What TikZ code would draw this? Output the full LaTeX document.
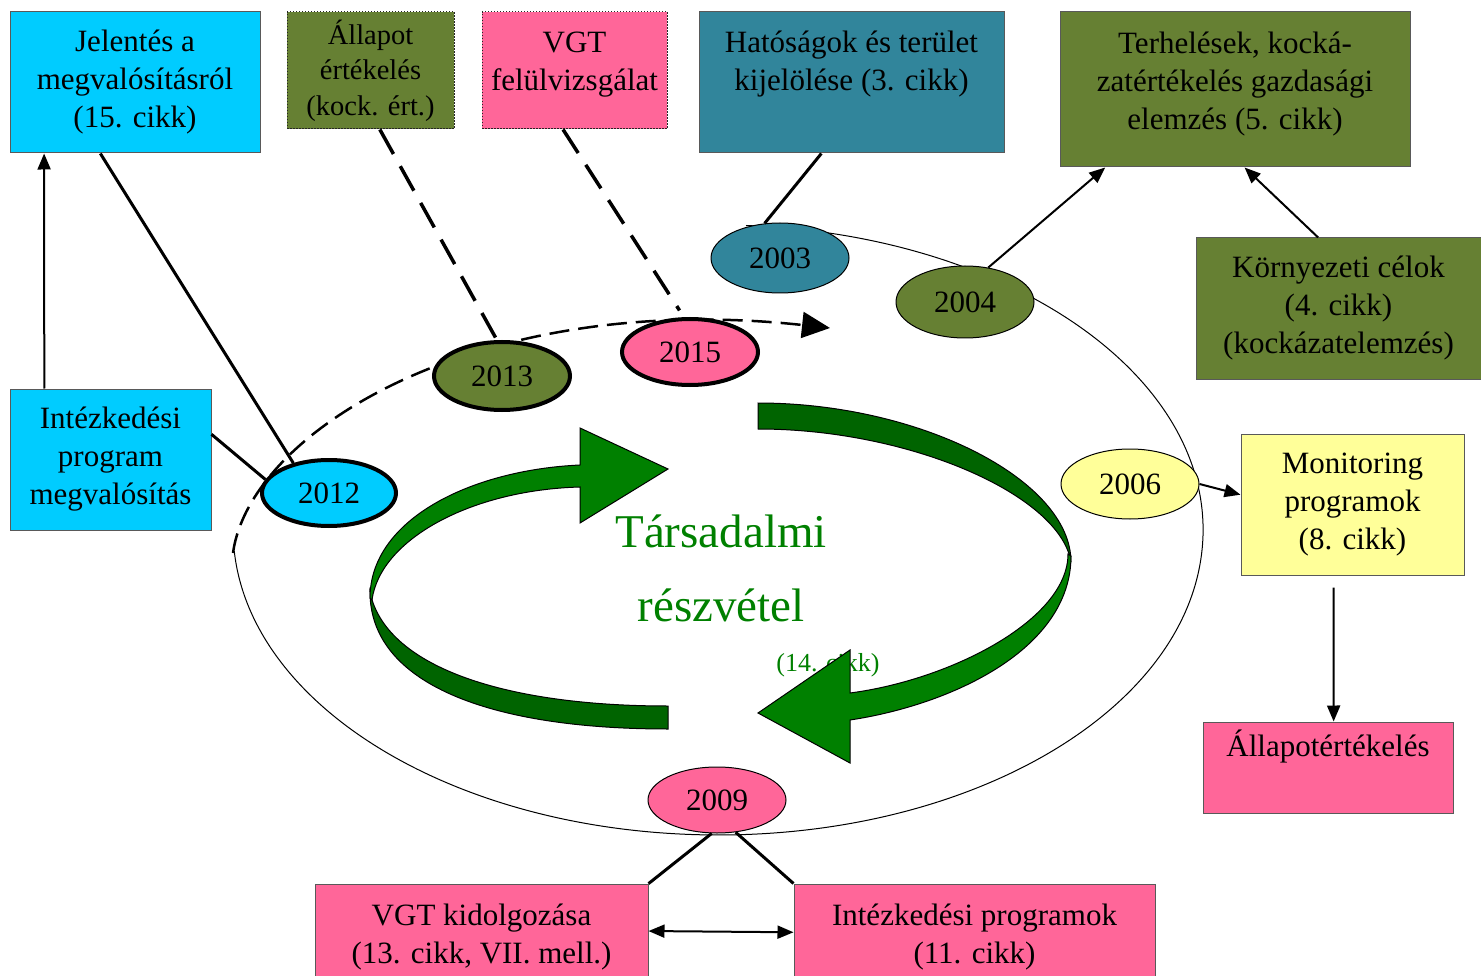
\documentclass[tikz,border=0pt]{standalone}
\usepackage{fontspec}
\setmainfont{Liberation Serif}
\usetikzlibrary{shapes.geometric,arrows.meta}

\definecolor{kek}{RGB}{0,204,255}
\definecolor{oliva}{RGB}{102,128,51}
\definecolor{rozsa}{RGB}{255,102,153}
\definecolor{petrol}{RGB}{49,133,155}
\definecolor{sarga}{RGB}{255,255,153}
\definecolor{zold}{RGB}{0,128,0}
\definecolor{sotetzold}{RGB}{0,100,0}

\begin{document}
\begin{tikzpicture}[x=1pt, y=-1pt,
    box/.style={draw=black!65, line width=1pt, inner sep=0pt, align=center, font=\fontsize{31}{38}\selectfont},
    dotbox/.style={box, draw=black!85, dash pattern=on 1.5pt off 1.5pt},
    yearnode/.style={ellipse, draw, line width=1pt, inner sep=0pt, font=\fontsize{31}{38}\selectfont},
    thickyear/.style={yearnode, line width=4pt},
    link/.style={line width=3pt},
    dlink/.style={line width=3.5pt, dash pattern=on 28pt off 14pt},
    arr/.style={line width=2pt, -{Triangle[length=16pt,width=13pt]}}]
            \useasboundingbox (0,0) rectangle (1481,976);
            \draw [line width=1pt] (746,225.5) arc [start angle=86.7, end angle=-176, x radius=485pt, y radius=305pt];
            \coordinate (dstart) at (233,553);
            \coordinate (dend) at (830,328);
            \draw [line width=2.5pt, dash pattern=on 20pt off 9pt, -{Triangle[length=28pt,width=26pt]}] (dstart) .. controls (250,430) and (480,290) .. (dend);
            \node [text=zold, align=center, font=\fontsize{47}{74}\selectfont] (tarsadalmi) at (721,568) {Társadalmi\\részvétel};
            \node [text=zold, font=\fontsize{26}{30}\selectfont] (cikk14) at (828,665) {(14. cikk)};
            \filldraw [fill=sotetzold, line width=1pt] (668,729) .. controls (488,729) and (370,683) .. (370,592) .. controls (385,665) and (500,706) .. (668,706) -- cycle;
            \filldraw [fill=zold, line width=1pt] (370,598) .. controls (370,520) and (470,470) .. (580,465) -- (580,428) -- (668,469) -- (580,523) -- (580,487) .. controls (470,490) and (380,540) .. (372,600) -- cycle;
            \filldraw [fill=sotetzold, line width=1pt] (758,403) .. controls (920,403) and (1071,480) .. (1071,562) .. controls (1060,495) and (910,429) .. (758,429) -- cycle;
            \filldraw [fill=zold, line width=1pt] (1071,556) .. controls (1071,650) and (950,705) .. (850,720) -- (850,763) -- (758,713) -- (850,650) -- (850,693) .. controls (950,680) and (1068,620) .. (1068,554) -- cycle;
            \node [yearnode, fill=petrol, minimum width=138, minimum height=70] (y2003) at (780,258) {2003};
            \node [yearnode, fill=oliva, minimum width=138, minimum height=72] (y2004) at (965,302) {2004};
            \node [yearnode, fill=sarga, minimum width=138, minimum height=70] (y2006) at (1130,484) {2006};
            \node [yearnode, fill=rozsa, minimum width=138, minimum height=66] (y2009) at (717,800) {2009};
            \node [thickyear, fill=kek, minimum width=134, minimum height=66] (y2012) at (329,493) {2012};
            \node [thickyear, fill=oliva, minimum width=136, minimum height=68] (y2013) at (502,376) {2013};
            \node [thickyear, fill=rozsa, minimum width=136, minimum height=66] (y2015) at (690,352) {2015};
            \node [box, fill=kek, minimum width=250, minimum height=141] (jelentes) at (135,82.5) {Jelentés a\\megvalósításról\\(15. cikk)};
            \node [dotbox, fill=oliva, minimum width=167, minimum height=117, font=\fontsize{28.5}{35.5}\selectfont] (allapot) at (370.5,70.5) {Állapot\\értékelés\\(kock. ért.)};
            \node [dotbox, fill=rozsa, minimum width=185, minimum height=117] (vgt) at (574.5,70.5) {VGT\\felülvizsgálat\\[-31pt]\strut};
            \node [box, fill=petrol, minimum width=305, minimum height=141] (hatosagok) at (851.5,82.5) {Hatóságok és terület\\kijelölése (3. cikk)\\[-6pt]\strut};
            \node [box, fill=oliva, minimum width=350, minimum height=155] (terhelesek) at (1235,89.5) {Terhelések, kocká-\\zatértékelés gazdasági\\elemzés (5. cikk)\\[-31pt]\strut};
            \node [box, fill=oliva, minimum width=285, minimum height=141] (kornyezeti) at (1338.5,308.5) {Környezeti célok\\(4. cikk)\\(kockázatelemzés)};
            \node [box, fill=kek, minimum width=201, minimum height=141] (intez) at (110.5,459.5) {Intézkedési\\program\\megvalósítás};
            \node [box, fill=sarga, minimum width=223, minimum height=141] (monitoring) at (1352.5,504.5) {Monitoring\\programok\\(8. cikk)};
            \node [box, fill=rozsa, minimum width=250, minimum height=91] (allapotert) at (1328,767.5) {Állapotértékelés\\ \strut};
            \node [box, fill=rozsa, minimum width=333, minimum height=141] (vgtkid) at (481.5,954.5) {VGT kidolgozása\\(13. cikk, VII. mell.)\\[-8pt]\strut};
            \node [box, fill=rozsa, minimum width=361, minimum height=141] (intprog) at (974.5,954.5) {Intézkedési programok\\(11. cikk)\\[-8pt]\strut};
            \draw [link] (jelentes.-116) -- (y2012.140);
            \draw [link] (intez.14) -- (y2012.168);
            \draw [arr] (intez.133) -- (jelentes.-142);
            \draw [dlink] (allapot.-81) -- (y2013.98);
            \draw [dlink, shorten >=8pt] (vgt.-101) -- (y2015.100);
            \draw [link] (hatosagok.-113) -- (y2003.114);
            \draw [arr] (y2004.56) -- (terhelesek.-149);
            \draw [arr] (kornyezeti.106) -- (terhelesek.-83);
            \draw [arr] (y2006.east) -- (monitoring.175);
            \draw [arr, shorten <=12pt] (monitoring.-105) -- (allapotert.83);
            \draw [link] (y2009.-99) -- (vgtkid.23);
            \draw [link] (y2009.-60) -- (intprog.north west);
            \draw [line width=2pt, {Triangle[length=16pt,width=13pt]}-{Triangle[length=16pt,width=13pt]}] (vgtkid.8) -- (intprog.173);
        \end{tikzpicture}
\end{document}
